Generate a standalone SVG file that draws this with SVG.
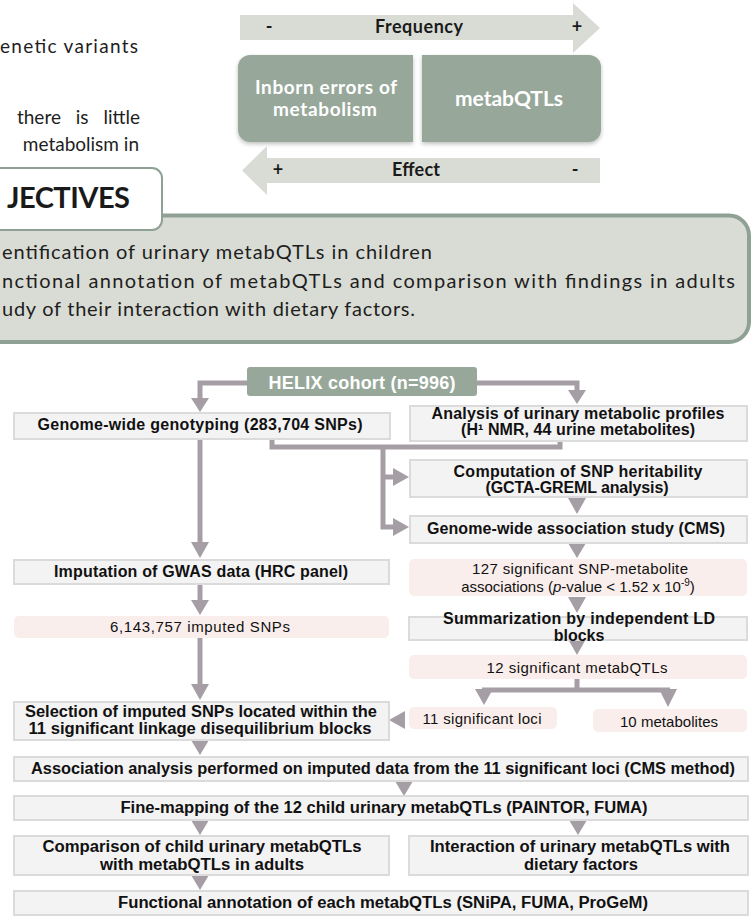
<svg xmlns="http://www.w3.org/2000/svg" width="752" height="919" viewBox="0 0 752 919">
  <defs>
    <style>
      .body{font-family:Lato,"Open Sans",sans-serif;fill:#1e1e1e}
      .hd{font-family:Lato,"Open Sans",sans-serif;font-weight:700}
      .wt{fill:#ffffff;text-anchor:middle}
      .dk{fill:#1a1a1a;text-anchor:middle}
      .fb{font-family:"Liberation Sans",Arial,sans-serif;font-weight:700;font-size:16px;fill:#111;text-anchor:middle}
      .fn{font-family:"Liberation Sans",Arial,sans-serif;font-size:15px;fill:#111;text-anchor:middle}
      .box{fill:#f4f3f4;stroke:#dcdbdc;stroke-width:2}
      .pink{fill:#f9eeec}
      .conn{fill:none;stroke:#a69ea5;stroke-width:5}
      .head{fill:#a69ea5}
      .sage{fill:#97a89b}
      .band{fill:#d9dcd4}
    </style>
    <filter id="shadow" x="-10%" y="-10%" width="120%" height="130%">
      <feDropShadow dx="0" dy="2" stdDeviation="2" flood-color="#000" flood-opacity="0.25"/>
    </filter>
  </defs>

  <!-- introductory paragraph (cut at the left edge) -->
  <g id="intro">
    <text class="body" font-size="19" x="0" y="53" textLength="138">enetic variants</text>
    <text class="body" font-size="19" x="140" y="124" text-anchor="end" word-spacing="10">there is little</text>
    <text class="body" font-size="19" x="139" y="151" text-anchor="end">metabolism in</text>
  </g>

  <!-- frequency / effect scheme -->
  <g id="frequency-arrow">
    <path class="band" d="M240,15 H573 V3 L600,28 L573,53 V40 H240 Z"/>
    <text class="hd dk" font-size="18" x="269" y="33">-</text>
    <text class="hd dk" font-size="18" x="419" y="33" textLength="88">Frequency</text>
    <text class="hd dk" font-size="18" x="577" y="33">+</text>
  </g>
  <g id="inborn-errors">
    <path class="sage" filter="url(#shadow)" d="M250,55 H413 V142 H250 A12,12 0 0 1 238,130 V67 A12,12 0 0 1 250,55 Z"/>
    <text class="hd wt" font-size="19" x="326" y="94" textLength="142">Inborn errors of</text>
    <text class="hd wt" font-size="19" x="325" y="116" textLength="104">metabolism</text>
  </g>
  <g id="metabqtls">
    <path class="sage" filter="url(#shadow)" d="M422,55 H589 A12,12 0 0 1 601,67 V130 A12,12 0 0 1 589,142 H422 Z"/>
    <text class="hd wt" font-size="21" x="509" y="106" textLength="108">metabQTLs</text>
  </g>
  <g id="effect-arrow">
    <path class="band" d="M600,158 H267 V146 L242,170.5 L267,195 V183 H600 Z"/>
    <text class="hd dk" font-size="18" x="278" y="176">+</text>
    <text class="hd dk" font-size="18" x="416" y="176" textLength="48">Effect</text>
    <text class="hd dk" font-size="18" x="575" y="176">-</text>
  </g>

  <!-- objectives panel -->
  <g id="objectives">
    <path d="M-10,215.5 H729 A20,20 0 0 1 749,235.5 V322 A20,20 0 0 1 729,342 H-10 Z" fill="#d9dcd4" stroke="#8fa095" stroke-width="4"/>
    <path d="M-10,168 H152 A10,10 0 0 1 162,178 V220 A10,10 0 0 1 152,230 H-10 Z" fill="#ffffff" stroke="#8fa095" stroke-width="2"/>
    <text class="hd" font-size="29" fill="#1a1a1a" x="7" y="208" textLength="123">JECTIVES</text>
    <text class="body" font-size="20" x="2" y="259" textLength="430">entification of urinary metabQTLs in children</text>
    <text class="body" font-size="20" x="2" y="288" textLength="733">nctional annotation of metabQTLs and comparison with findings in adults</text>
    <text class="body" font-size="20" x="2" y="316" textLength="413">udy of their interaction with dietary factors.</text>
  </g>

  <!-- flowchart connectors -->
  <g id="connectors">
    <path class="conn" d="M247,383 H200 V399"/>
    <polygon class="head" points="191,398 209,398 200,412"/>
    <path class="conn" d="M477,383 H577 V391"/>
    <polygon class="head" points="568,390 586,390 577,404"/>
    <path class="conn" d="M272,440 V447 H560 V441"/>
    <path class="conn" d="M383,447 V527 H395 M383,477 H395"/>
    <polygon class="head" points="393,468 393,486 409,477"/>
    <polygon class="head" points="393,518 393,536 409,527"/>
    <polygon class="head" points="568,498 586,498 577,514"/>
    <polygon class="head" points="568,543 586,543 577,558"/>
    <polygon class="head" points="568,597 586,597 577,613"/>
    <polygon class="head" points="568,639 586,639 577,655"/>
    <path class="conn" d="M577,679 V690 M482,690 H670"/>
    <polygon class="head" points="475,689 493,689 484,705"/>
    <polygon class="head" points="659,689 677,689 668,707"/>
    <polygon class="head" points="389,720 405,711 405,729"/>
    <path class="conn" d="M200,439 V543"/>
    <polygon class="head" points="191,542 209,542 200,558"/>
    <path class="conn" d="M200,584 V601"/>
    <polygon class="head" points="191,600 209,600 200,615"/>
    <path class="conn" d="M200,638 V685"/>
    <polygon class="head" points="191,684 209,684 200,700"/>
    <polygon class="head" points="191,740 209,740 200,755"/>
    <polygon class="head" points="395,781 413,781 404,796"/>
    <polygon class="head" points="191,820 209,820 200,835"/>
    <polygon class="head" points="569,820 587,820 578,835"/>
    <polygon class="head" points="191,875 209,875 200,890"/>
  </g>

  <!-- flowchart nodes -->
  <g id="helix">
    <rect x="247" y="367" width="230" height="29" rx="3" class="sage"/>
    <text class="fb" style="font-size:18px;fill:#ffffff" x="362" y="389" textLength="187">HELIX cohort (n=996)</text>
  </g>
  <g id="genotyping">
    <rect x="14" y="413" width="376" height="26" class="box"/>
    <text class="fb" x="200" y="430" textLength="325">Genome-wide genotyping (283,704 SNPs)</text>
  </g>
  <g id="metabolic-profiles">
    <rect x="410" y="406" width="337" height="35" class="box"/>
    <text class="fb" x="578" y="419" textLength="293">Analysis of urinary metabolic profiles</text>
    <text class="fb" x="578" y="435" textLength="234">(H¹ NMR, 44 urine metabolites)</text>
  </g>
  <g id="heritability">
    <rect x="410" y="460" width="337" height="37" class="box"/>
    <text class="fb" x="578" y="477" textLength="249">Computation of SNP heritability</text>
    <text class="fb" x="577" y="493" textLength="183">(GCTA-GREML analysis)</text>
  </g>
  <g id="gwas">
    <rect x="410" y="516" width="337" height="27" class="box"/>
    <text class="fb" x="576" y="534" textLength="298">Genome-wide association study (CMS)</text>
  </g>
  <g id="associations">
    <rect x="409" y="559" width="338" height="37" rx="5" class="pink"/>
    <text class="fn" x="580" y="574" textLength="216">127 significant SNP-metabolite</text>
    <text class="fn" x="578" y="592">associations  (<tspan font-style="italic">p</tspan>-value &lt; 1.52 x 10<tspan font-size="10" dy="-6">-9</tspan><tspan dy="6">)</tspan></text>
  </g>
  <g id="summarization">
    <rect x="409" y="617" width="338" height="23" class="box"/>
    <text class="fb" x="579" y="624" textLength="272">Summarization by independent LD</text>
    <text class="fb" x="579" y="641">blocks</text>
  </g>
  <g id="metabqtls-12">
    <rect x="409" y="655" width="338" height="24" rx="5" class="pink"/>
    <text class="fn" x="577" y="673" textLength="181">12 significant metabQTLs</text>
  </g>
  <g id="loci">
    <rect x="409" y="707" width="148" height="22" rx="5" class="pink"/>
    <text class="fn" x="482" y="724" textLength="119">11 significant loci</text>
  </g>
  <g id="metabolites">
    <rect x="593" y="709" width="154" height="23" rx="5" class="pink"/>
    <text class="fn" x="669" y="727" textLength="98">10 metabolites</text>
  </g>
  <g id="imputation">
    <rect x="14" y="560" width="375" height="24" class="box"/>
    <text class="fb" x="201" y="577" textLength="294">Imputation of GWAS data (HRC panel)</text>
  </g>
  <g id="imputed-snps">
    <rect x="14" y="616" width="375" height="22" rx="5" class="pink"/>
    <text class="fn" x="200" y="632" textLength="180">6,143,757 imputed SNPs</text>
  </g>
  <g id="selection">
    <rect x="14" y="702" width="375" height="38" class="box"/>
    <text class="fb" x="201" y="717" textLength="352" lengthAdjust="spacingAndGlyphs">Selection of imputed SNPs located within the</text>
    <text class="fb" x="200" y="734" textLength="343" lengthAdjust="spacingAndGlyphs">11 significant linkage disequilibrium blocks</text>
  </g>
  <g id="association-imputed">
    <rect x="14" y="757" width="734" height="24" class="box"/>
    <text class="fb" x="383" y="774" textLength="704" lengthAdjust="spacingAndGlyphs">Association analysis performed on imputed data from the 11 significant loci (CMS method)</text>
  </g>
  <g id="fine-mapping">
    <rect x="14" y="796" width="734" height="24" class="box"/>
    <text class="fb" x="384" y="813" textLength="527" lengthAdjust="spacingAndGlyphs">Fine-mapping of the 12 child urinary metabQTLs (PAINTOR, FUMA)</text>
  </g>
  <g id="comparison">
    <rect x="14" y="836" width="375" height="39" class="box"/>
    <text class="fb" x="202" y="852" textLength="319" lengthAdjust="spacingAndGlyphs">Comparison of child urinary metabQTLs</text>
    <text class="fb" x="202" y="870" textLength="204" lengthAdjust="spacingAndGlyphs">with metabQTLs in adults</text>
  </g>
  <g id="interaction">
    <rect x="409" y="836" width="339" height="39" class="box"/>
    <text class="fb" x="580" y="852" textLength="300" lengthAdjust="spacingAndGlyphs">Interaction of urinary metabQTLs with</text>
    <text class="fb" x="581" y="870" textLength="114" lengthAdjust="spacingAndGlyphs">dietary factors</text>
  </g>
  <g id="functional-annotation">
    <rect x="14" y="891" width="734" height="24" class="box"/>
    <text class="fb" x="383" y="908" textLength="530" lengthAdjust="spacingAndGlyphs">Functional annotation of each metabQTLs (SNiPA, FUMA, ProGeM)</text>
  </g>
</svg>
